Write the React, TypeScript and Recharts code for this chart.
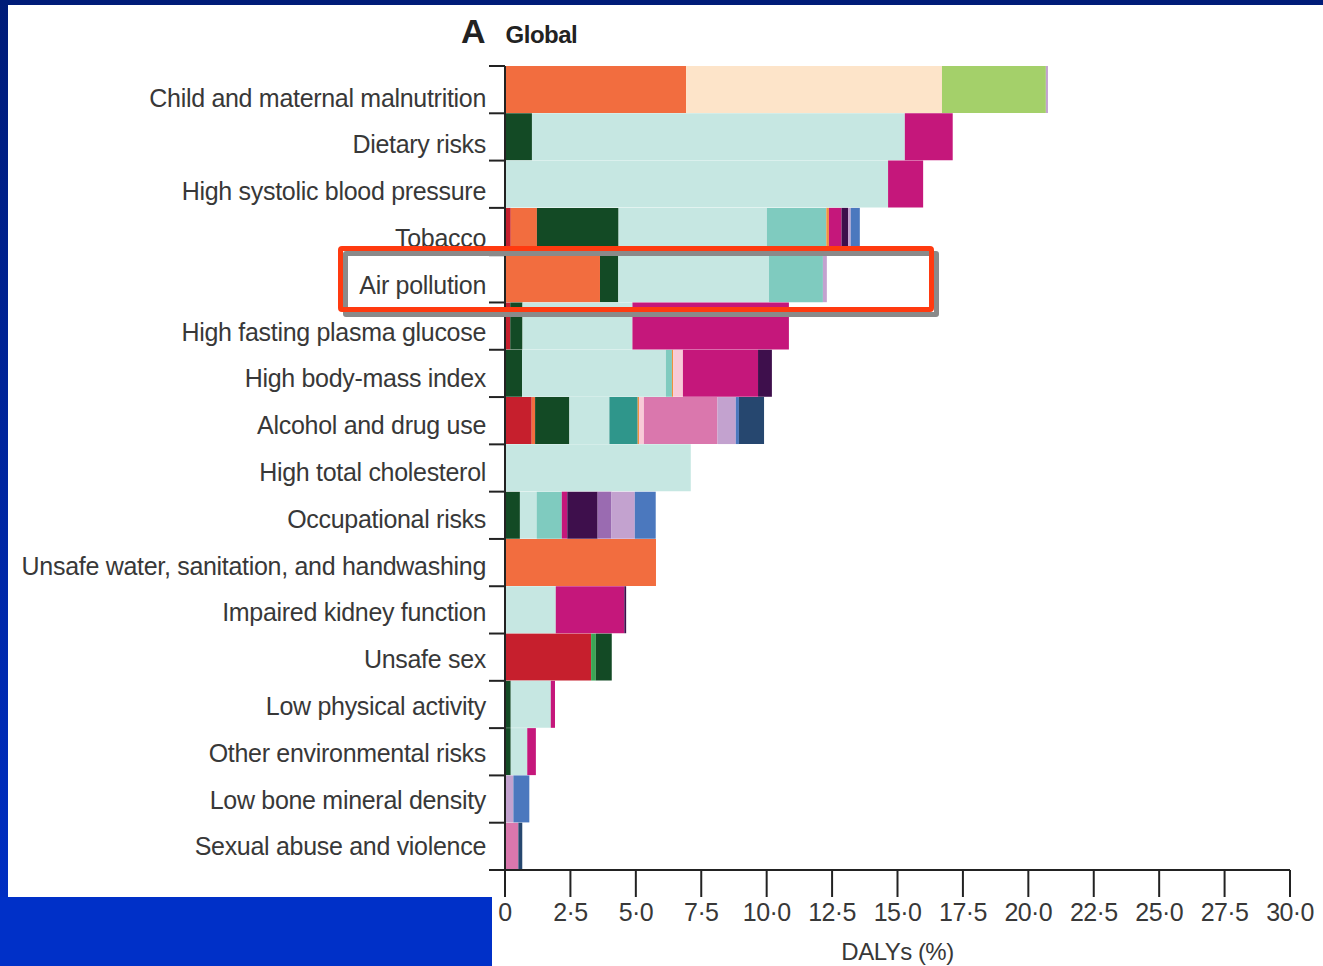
import React from 'react';
import { Bar, BarChart, Label, XAxis, YAxis } from 'recharts';

const categories = [
  'Child and maternal malnutrition',
  'Dietary risks',
  'High systolic blood pressure',
  'Tobacco',
  'Air pollution',
  'High fasting plasma glucose',
  'High body-mass index',
  'Alcohol and drug use',
  'High total cholesterol',
  'Occupational risks',
  'Unsafe water, sanitation, and handwashing',
  'Impaired kidney function',
  'Unsafe sex',
  'Low physical activity',
  'Other environmental risks',
  'Low bone mineral density',
  'Sexual abuse and violence',
];

// one array per cause colour, one value per risk factor (DALYs %)
const red = [0, 0, 0, 0.22, 0, 0.2, 0, 1.02, 0, 0, 0, 0, 3.29, 0, 0, 0, 0];
const orange = [6.92, 0, 0, 1.0, 3.63, 0, 0, 0.13, 0, 0, 5.77, 0, 0, 0, 0, 0, 0];
const peach = [9.78, 0, 0, 0, 0, 0, 0, 0, 0, 0, 0, 0, 0, 0, 0, 0, 0];
const lightGreen = [3.97, 0, 0, 0, 0, 0, 0, 0, 0, 0, 0, 0, 0, 0, 0, 0, 0];
const brightGreen = [0, 0, 0, 0, 0, 0, 0, 0, 0, 0, 0, 0, 0.18, 0, 0, 0, 0];
const darkGreen = [0, 1.03, 0, 3.12, 0.7, 0.47, 0.65, 1.31, 0, 0.57, 0, 0, 0.61, 0.22, 0.22, 0, 0];
const lightTeal = [0, 14.25, 14.64, 5.67, 5.76, 4.2, 5.5, 1.53, 7.1, 0.64, 0, 1.94, 0, 1.53, 0.63, 0, 0];
const midTeal = [0, 0, 0, 2.27, 2.06, 0, 0.23, 0, 0, 0.96, 0, 0, 0, 0, 0, 0, 0];
const darkTeal = [0, 0, 0, 0, 0, 0, 0, 1.08, 0, 0, 0, 0, 0, 0, 0, 0, 0];
const amber = [0, 0, 0, 0.1, 0, 0, 0.05, 0.05, 0, 0, 0, 0, 0, 0, 0, 0, 0];
const lightPink = [0, 0, 0, 0, 0, 0, 0.37, 0.19, 0, 0, 0, 0, 0, 0, 0, 0, 0];
const pink = [0, 0, 0, 0, 0, 0, 0, 2.81, 0, 0, 0, 0, 0, 0, 0, 0, 0.51];
const magenta = [0, 1.83, 1.34, 0.48, 0, 5.98, 2.87, 0, 0, 0.21, 0, 2.62, 0, 0.16, 0.33, 0, 0];
const darkPurple = [0, 0, 0, 0.25, 0, 0, 0.53, 0, 0, 1.16, 0, 0.07, 0, 0, 0, 0, 0];
const purple = [0, 0, 0, 0, 0, 0, 0, 0, 0, 0.53, 0, 0, 0, 0, 0, 0, 0];
const lavender = [0.08, 0, 0, 0.1, 0.15, 0, 0, 0.7, 0, 0.89, 0, 0, 0, 0, 0, 0.32, 0];
const blue = [0, 0, 0, 0.35, 0, 0, 0, 0.12, 0, 0.8, 0, 0, 0, 0, 0, 0.61, 0];
const navy = [0, 0, 0, 0, 0, 0, 0, 0.96, 0, 0, 0, 0, 0, 0, 0, 0, 0.15];

const xTicks = [0, 2.5, 5, 7.5, 10, 12.5, 15, 17.5, 20, 22.5, 25, 27.5, 30];

const SERIES = [
  { key: 'red', values: red, color: '#c61f2d' },
  { key: 'orange', values: orange, color: '#f26d3f' },
  { key: 'peach', values: peach, color: '#fde4c9' },
  { key: 'lightGreen', values: lightGreen, color: '#a4d06a' },
  { key: 'brightGreen', values: brightGreen, color: '#3aa655' },
  { key: 'darkGreen', values: darkGreen, color: '#134a25' },
  { key: 'lightTeal', values: lightTeal, color: '#c6e7e2' },
  { key: 'midTeal', values: midTeal, color: '#7fcbbf' },
  { key: 'darkTeal', values: darkTeal, color: '#2f968b' },
  { key: 'amber', values: amber, color: '#f0903c' },
  { key: 'lightPink', values: lightPink, color: '#f8cad7' },
  { key: 'pink', values: pink, color: '#da77ad' },
  { key: 'magenta', values: magenta, color: '#c5177b' },
  { key: 'darkPurple', values: darkPurple, color: '#3e0f4c' },
  { key: 'purple', values: purple, color: '#9a6bb1' },
  { key: 'lavender', values: lavender, color: '#c3a2cf' },
  { key: 'blue', values: blue, color: '#4b78be' },
  { key: 'navy', values: navy, color: '#26476f' },
];

const data = categories.map((name, i) => {
  const row: Record<string, string | number> = { name };
  SERIES.forEach((s) => {
    row[s.key] = s.values[i];
  });
  return row;
});

const W = 1323;
const H = 966;
const PLOT_TOP = 66;
const PLOT_BOTTOM = 870;
const AXIS_X = 505;
const BAND = (PLOT_BOTTOM - PLOT_TOP) / categories.length;
const FONT = '"Liberation Sans", Arial, sans-serif';

const fmtTick = (v: number) => (v === 0 ? '0' : v.toFixed(1).replace('.', '·'));

// label plus the small boundary ticks between rows
function CategoryTick(props: any) {
  const { x, y, payload, index } = props;
  const last = index === categories.length - 1;
  // labels sit a little low at the top and drift onto the row centre at the bottom
  const dy = 8 - index * 0.5;
  return (
    <g>
      <line x1={x - 16} x2={x} y1={y - BAND / 2} y2={y - BAND / 2} stroke="#222" strokeWidth={2} />
      {last && <line x1={x - 16} x2={x} y1={y + BAND / 2} y2={y + BAND / 2} stroke="#222" strokeWidth={2} />}
      <text
        x={x - 19}
        y={y + dy}
        textAnchor="end"
        dominantBaseline="central"
        fontFamily={FONT}
        fontSize={25}
        letterSpacing={-0.3}
        fill="#383838"
      >
        {payload.value}
      </text>
    </g>
  );
}

export default function App() {
  return (
    <div
      style={{
        position: 'absolute',
        left: 0,
        top: 0,
        width: W,
        height: H,
        background: 'linear-gradient(#001c78, #0030c8)',
        overflow: 'hidden',
      }}
    >
      <div style={{ position: 'absolute', left: 8, top: 5, width: W - 8, height: H - 5, background: '#fff' }} />
      <div style={{ position: 'absolute', left: 0, top: 897, width: 492, height: H - 897, background: '#0030c8' }} />
      <div style={{ position: 'absolute', left: 461, top: 12, fontFamily: FONT, color: '#222', whiteSpace: 'nowrap' }}>
        <span style={{ fontSize: 34, fontWeight: 700 }}>A</span>
        <span style={{ fontSize: 24, fontWeight: 700, marginLeft: 20, letterSpacing: -0.5 }}>Global</span>
      </div>
      <div style={{ position: 'absolute', left: 0, top: 0 }}>
        <BarChart
          width={W}
          height={H}
          data={data}
          layout="vertical"
          barCategoryGap={0}
          margin={{ top: PLOT_TOP, right: W - 1290, bottom: 0, left: 0 }}
        >
          <XAxis
            type="number"
            domain={[0, 30]}
            ticks={xTicks}
            tickFormatter={fmtTick}
            height={H - PLOT_BOTTOM}
            tickSize={27}
            tickMargin={6}
            axisLine={{ stroke: '#222', strokeWidth: 2 }}
            tickLine={{ stroke: '#222', strokeWidth: 2 }}
            tick={{ fill: '#383838', fontSize: 25, fontFamily: FONT, letterSpacing: -0.6 }}
          >
            <Label
              value="DALYs (%)"
              position="insideBottom"
              offset={6}
              style={{ fill: '#383838', fontSize: 24, fontFamily: FONT, letterSpacing: -0.5 }}
            />
          </XAxis>
          <YAxis
            type="category"
            dataKey="name"
            width={AXIS_X}
            tickSize={0}
            tickMargin={0}
            interval={0}
            axisLine={{ stroke: '#222', strokeWidth: 2 }}
            tick={<CategoryTick />}
          />
          {SERIES.map((s) => (
            <Bar key={s.key} dataKey={s.key} stackId="a" fill={s.color} isAnimationActive={false} />
          ))}
        </BarChart>
      </div>
      {/* highlight box around the Air pollution row */}
      <div
        style={{
          position: 'absolute',
          left: 343,
          top: 251,
          width: 586,
          height: 56,
          border: '5px solid #8a8a8a',
          borderRadius: 3,
        }}
      />
      <div
        style={{
          position: 'absolute',
          left: 338,
          top: 246,
          width: 586,
          height: 56,
          border: '5px solid #ff3a10',
          borderRadius: 4,
        }}
      />
    </div>
  );
}
